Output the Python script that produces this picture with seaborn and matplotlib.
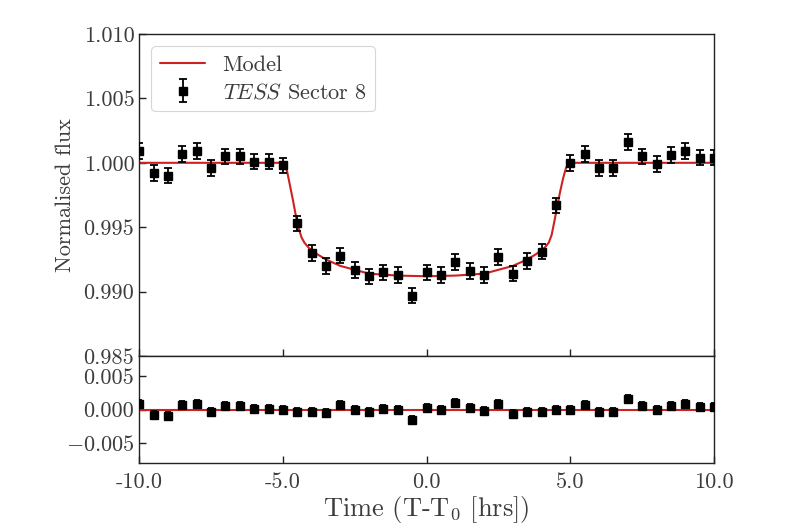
import matplotlib
matplotlib.use("Agg")
import matplotlib.pyplot as plt
import seaborn as sns
import pandas as pd

# ---- data ----
time = [-10.0, -9.5, -9.0, -8.5, -8.0, -7.5, -7.0, -6.5, -6.0, -5.5,
        -5.0, -4.5, -4.0, -3.5, -3.0, -2.5, -2.0, -1.5, -1.0, -0.5,
        0.0, 0.5, 1.0, 1.5, 2.0, 2.5, 3.0, 3.5, 4.0, 4.5,
        5.0, 5.5, 6.0, 6.5, 7.0, 7.5, 8.0, 8.5, 9.0, 9.5, 10.0]
flux = [1.0009, 0.9992, 0.9990, 1.0007, 1.0009, 0.9996, 1.0005, 1.0005, 1.0001, 1.0001,
        0.9998, 0.9953, 0.9930, 0.9920, 0.9928, 0.9917, 0.9912, 0.9915, 0.9913, 0.9897,
        0.9915, 0.9913, 0.9923, 0.9916, 0.9913, 0.9927, 0.9914, 0.9924, 0.9931, 0.9967,
        1.0000, 1.0007, 0.9996, 0.9996, 1.0016, 1.0005, 0.9999, 1.0006, 1.0009, 1.0004, 1.0004]
flux_err = [0.0006] * len(time)
resid = [0.0008, -0.0008, -0.0010, 0.0007, 0.0009, -0.0003, 0.0005, 0.0005, 0.0001, 0.0001,
         0.0000, -0.0003, -0.0003, -0.0005, 0.0007, -0.0001, -0.0003, 0.0001, 0.0000, -0.0015,
         0.0002, 0.0000, 0.0010, 0.0002, -0.0002, 0.0009, -0.0007, -0.0003, -0.0003, -0.0001,
         0.0000, 0.0007, -0.0003, -0.0003, 0.0016, 0.0005, -0.0001, 0.0006, 0.0009, 0.0004, 0.0004]

model_t = [-10.0, -4.95, -4.85, -4.75, -4.65, -4.55, -4.45, -4.35, -4.25, -4.1, -3.8,
           -3.5, -3.0, -2.5, -2.0, -1.0, 0.0, 1.0, 2.0, 2.5, 3.0, 3.5, 3.8, 4.1,
           4.25, 4.35, 4.45, 4.55, 4.65, 4.75, 4.85, 4.95, 10.0]
model_f = [1.0000, 1.0000, 0.9993, 0.9982, 0.9971, 0.9959, 0.9949, 0.9942, 0.9938, 0.9934, 0.9929,
           0.9925, 0.9920, 0.9917, 0.9914, 0.99125, 0.9912, 0.99125, 0.9914, 0.9917, 0.9920, 0.9925, 0.9929, 0.9934,
           0.9938, 0.9944, 0.9955, 0.9967, 0.9978, 0.9988, 0.9996, 1.0000, 1.0000]
resid_line_t = [-10.0, 10.0]
resid_line_f = [0.0, 0.0]

main_yticks = [0.985, 0.990, 0.995, 1.000, 1.005, 1.010]
main_yticklabels = ["0.985", "0.990", "0.995", "1.000", "1.005", "1.010"]
res_yticks = [-0.005, 0.0, 0.005]
res_yticklabels = ["$-0.005$", "0.000", "0.005"]
xticks = [-10, -5, 0, 5, 10]
xticklabels = ["-10.0", "-5.0", "0.0", "5.0", "10.0"]

# ---- style ----
sns.set_theme(style="ticks")
plt.rcParams["font.family"] = ["cmr10", "DejaVu Serif"]
plt.rcParams["mathtext.fontset"] = "cm"
plt.rcParams["axes.unicode_minus"] = False
plt.rcParams["axes.formatter.use_mathtext"] = True

txt = "#3c3c3c"
red = "#cc2222"

fig = plt.figure(figsize=(8.0, 5.3), dpi=100)
ax = fig.add_axes([0.174, 0.328, 0.7185, 0.608])
axr = fig.add_axes([0.174, 0.126, 0.7185, 0.202])

model_df = pd.DataFrame({"t": model_t, "f": model_f})
sns.lineplot(data=model_df, x="t", y="f", ax=ax, color=red, lw=1.5,
             label="Model", zorder=2, sort=False)
ax.errorbar(time, flux, yerr=flux_err, fmt="s", color="black", ms=5.8,
            elinewidth=1.3, capsize=2.6, capthick=1.3, zorder=3,
            label=r"$\it{TESS}$ Sector 8")

res_df = pd.DataFrame({"t": resid_line_t, "f": resid_line_f})
sns.lineplot(data=res_df, x="t", y="f", ax=axr, color=red, lw=1.5, zorder=2)
axr.errorbar(time, resid, yerr=flux_err, fmt="s", color="black", ms=5.5,
             elinewidth=1.3, capsize=2.5, capthick=1.3, zorder=3)

for a in (ax, axr):
    a.set_xlim(-10, 10)
    for s in a.spines.values():
        s.set_visible(True)
        s.set_linewidth(1.0)
        s.set_color("#222222")
    a.tick_params(direction="in", length=5, width=1.0, colors="#222222",
                  labelcolor=txt, labelsize=16, top=False, right=False)
    a.set_xticks(xticks)

ax.set_ylim(0.985, 1.010)
ax.set_yticks(main_yticks)
ax.set_yticklabels(main_yticklabels)
ax.set_xticklabels([])
ax.set_xlabel("")
ax.set_ylabel("Normalised flux", fontsize=16, color=txt, labelpad=6)

axr.set_ylim(-0.008, 0.008)
axr.set_yticks(res_yticks)
axr.set_yticklabels(res_yticklabels)
axr.set_xticklabels(xticklabels)
axr.set_ylabel("")
axr.set_xlabel(r"Time (T-T$_0$ [hrs])", fontsize=19, color=txt, labelpad=1)
axr.tick_params(axis="x", pad=7)

leg = ax.legend(loc="upper left", fontsize=16, frameon=True, fancybox=True,
                borderaxespad=0.55, handlelength=2.0, labelspacing=0.35,
                borderpad=0.4)
leg.get_frame().set_edgecolor("#cccccc")
leg.get_frame().set_linewidth(0.8)
for t in leg.get_texts():
    t.set_color(txt)

fig.savefig("out.png", dpi=100)
